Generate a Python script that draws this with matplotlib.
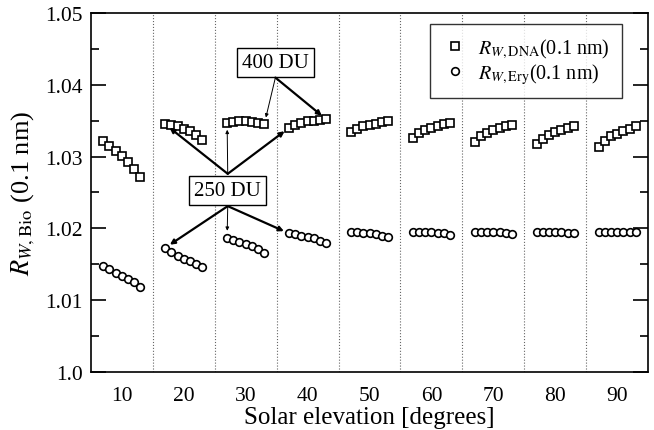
import numpy as np
import matplotlib
matplotlib.use("Agg")
import matplotlib.pyplot as plt

# solar elevation groups, 7 ozone columns (250 ... 400 DU) per group
group_centers = [10, 20, 30, 40, 50, 60, 70, 80, 90]
ozone_steps = [-3, -2, -1, 0, 1, 2, 3]

r_dna = [
    [1.0322, 1.0315, 1.0308, 1.0301, 1.0293, 1.0283, 1.0272],
    [1.0345, 1.0344, 1.0342, 1.0339, 1.0335, 1.0330, 1.0323],
    [1.0347, 1.0348, 1.0349, 1.0349, 1.0348, 1.0347, 1.0345],
    [1.0340, 1.0344, 1.0347, 1.0349, 1.0350, 1.0351, 1.0352],
    [1.0334, 1.0339, 1.0342, 1.0344, 1.0346, 1.0348, 1.0349],
    [1.0326, 1.0333, 1.0337, 1.0340, 1.0343, 1.0345, 1.0347],
    [1.0320, 1.0328, 1.0333, 1.0337, 1.0340, 1.0342, 1.0344],
    [1.0317, 1.0325, 1.0330, 1.0334, 1.0337, 1.0340, 1.0342],
    [1.0314, 1.0322, 1.0328, 1.0332, 1.0336, 1.0339, 1.0342],
]
r_ery = [
    [1.0148, 1.0143, 1.0138, 1.0134, 1.0130, 1.0125, 1.0119],
    [1.0173, 1.0167, 1.0162, 1.0158, 1.0154, 1.0150, 1.0146],
    [1.0187, 1.0184, 1.0181, 1.0178, 1.0175, 1.0171, 1.0166],
    [1.0193, 1.0192, 1.0190, 1.0188, 1.0186, 1.0183, 1.0179],
    [1.0195, 1.0195, 1.0194, 1.0193, 1.0192, 1.0190, 1.0188],
    [1.0195, 1.0195, 1.0195, 1.0195, 1.0194, 1.0193, 1.0191],
    [1.0195, 1.0195, 1.0195, 1.0195, 1.0195, 1.0194, 1.0192],
    [1.0195, 1.0195, 1.0195, 1.0195, 1.0195, 1.0194, 1.0193],
    [1.0195, 1.0195, 1.0195, 1.0195, 1.0195, 1.0195, 1.0195],
]

plt.rcParams["font.family"] = ["Liberation Serif", "DejaVu Serif"]
plt.rcParams["mathtext.fontset"] = "stix"

fig = plt.figure(figsize=(6.54, 4.31), dpi=100)
ax = fig.add_axes([0.139, 0.1346, 0.852, 0.833])

for i, c in enumerate(group_centers):
    x = [c + s for s in ozone_steps]
    ax.plot(x, r_dna[i], ls="none", marker="s", ms=5.5, mfc="white", mec="black",
            mew=1.2, label=r"$R_{W,\mathrm{DNA}}$(0.1 nm)" if i == 0 else None)
    ax.plot(x, r_ery[i], ls="none", marker="o", ms=5.5, mfc="white", mec="black",
            mew=1.2, label=r"$R_{W,\mathrm{Ery}}$(0.1 nm)" if i == 0 else None)

# dotted separators between groups
for g in range(15, 90, 10):
    ax.axvline(g, color="0.4", lw=0.8, ls=":", zorder=0)

ax.set_xlim(5, 95)
ax.set_ylim(1.0, 1.05)
ax.set_xticks(group_centers)
ax.set_yticks([1.0, 1.01, 1.02, 1.03, 1.04, 1.05])
ax.set_yticklabels(["1.0", "1.01", "1.02", "1.03", "1.04", "1.05"])
ax.set_yticks(np.arange(1.005, 1.05, 0.01), minor=True)
ax.tick_params(axis="x", length=0, labelsize=15.5, pad=10)
ax.tick_params(axis="y", which="major", direction="in", length=11, width=1.2,
               right=True, labelsize=15.5, pad=6)
ax.tick_params(axis="y", which="minor", direction="in", length=6, width=1.2,
               right=True)
for sp in ax.spines.values():
    sp.set_linewidth(1.2)

ax.set_xlabel("Solar elevation [degrees]", fontsize=18, labelpad=1)
ax.set_ylabel(r"$R_{W,\mathrm{Bio}}$ (0.1 nm)", fontsize=19, labelpad=6)

leg = ax.legend(loc="upper right", bbox_to_anchor=(0.953, 0.969), borderaxespad=0,
                fontsize=14.5, frameon=True, fancybox=False, handletextpad=0.5,
                borderpad=0.6, labelspacing=0.05, handlelength=1.3)
leg.get_frame().set_edgecolor("black")
leg.get_frame().set_linewidth(1.0)

box = dict(boxstyle="square,pad=0.25", fc="white", ec="black", lw=1.0)
thick = dict(arrowstyle="-|>", lw=1.6, color="black", mutation_scale=7,
             shrinkA=0, shrinkB=4)
thin = dict(arrowstyle="-|>", lw=0.7, color="black", mutation_scale=5,
            shrinkA=0, shrinkB=5)

# 250 DU: first point of groups 20, 30, 40
ax.text(27.1, 1.0253, "250 DU", fontsize=15, ha="center", va="center", bbox=box)
top250 = (27.1, 1.0276)
bot250 = (27.1, 1.0231)
for i, style in [(1, thick), (2, thin), (3, thick)]:
    x0 = group_centers[i] + ozone_steps[0]
    ax.annotate("", xy=(x0, r_dna[i][0]), xytext=top250, arrowprops=style)
    ax.annotate("", xy=(x0, r_ery[i][0]), xytext=bot250, arrowprops=style)

# 400 DU: last point of groups 30, 40
ax.text(34.8, 1.0431, "400 DU", fontsize=15, ha="center", va="center", bbox=box)
bot400 = (34.8, 1.0410)
for i, style in [(2, thin), (3, thick)]:
    x1 = group_centers[i] + ozone_steps[-1]
    ax.annotate("", xy=(x1, r_dna[i][-1]), xytext=bot400, arrowprops=style)

fig.savefig("out.png", dpi=100)
